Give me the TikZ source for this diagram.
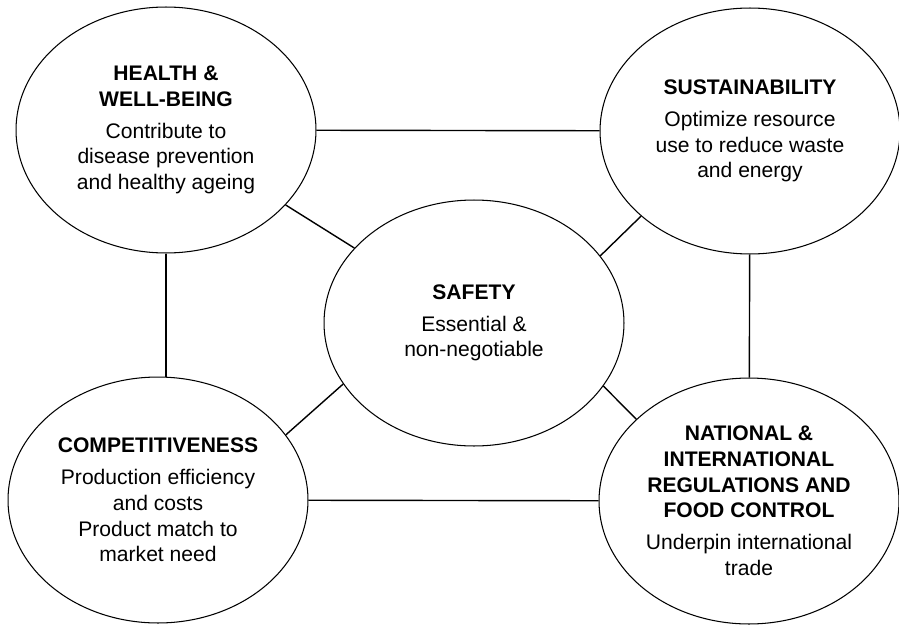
\documentclass[tikz,border=0pt]{standalone}
\usepackage{fontspec}
\setmainfont{Liberation Sans}
\usepackage{tikz}
\usetikzlibrary{shapes, positioning}

\begin{document}
\begin{tikzpicture}[x=0.02cm, y=-0.02cm,
	bubble/.style={draw, ellipse, line width=0.6pt, inner sep=0pt, minimum width=6cm, minimum height=4.92cm, align=center, font=\fontsize{12}{14.6}\selectfont},
	link/.style={draw, line width=0.8pt}]
				\useasboundingbox (0,0) rectangle (899,625);
				
				\node [bubble] (health) at (166,130) {\textbf{HEALTH \&}\\\textbf{WELL-BEING}\\[3.6pt]Contribute to\\disease prevention\\and healthy ageing};
				\node [bubble] (sust) at (750,131) {\textbf{SUSTAINABILITY}\\[3.6pt]Optimize resource\\use to reduce waste\\and energy};
				\node [bubble] (safety) at (474,323) {\textbf{SAFETY}\\[3.6pt]Essential \&\\non-negotiable};
				\node [bubble] (comp) at (158,500) {\textbf{COMPETITIVENESS}\\[3.6pt]Production efficiency\\and costs\\Product match to\\market need};
				\node [bubble] (regul) at (749,501) {\textbf{NATIONAL \&}\\\textbf{INTERNATIONAL}\\\textbf{REGULATIONS AND}\\\textbf{FOOD CONTROL}\\[3.6pt]Underpin international\\trade};
				
				% outer square
				\draw [link] (health) -- (sust);
				\draw [link] (sust) -- (regul);
				\draw [link] (comp) -- (regul);
				\draw [link] (health.south) -- (health.south |- comp.north);
				
				% spokes to the centre
				\draw [link] (health) -- (safety);
				\draw [link] (safety.28) -- (sust.218);
				\draw [link] (comp.27) -- (safety.205);
				\draw [link] (safety.-26) -- (regul.144);
\end{tikzpicture}
\end{document}
